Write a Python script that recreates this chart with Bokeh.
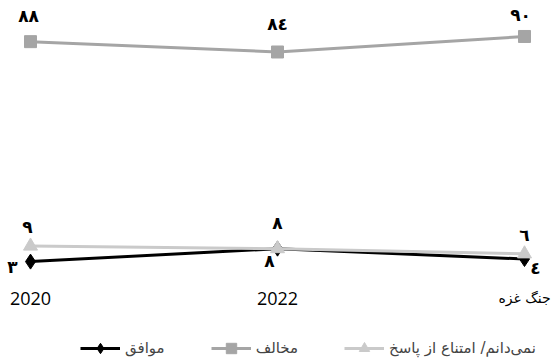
from bokeh.plotting import figure
from bokeh.models import Range1d, ColumnDataSource, Legend, LegendItem
from bokeh.core.properties import value
from bokeh.embed import file_html
from bokeh.resources import INLINE

# ---- data ----
categories = ["2020", "2022", "جنگ غزه"]
agree = [3, 8, 4]
oppose = [88, 84, 90]
dont_know = [9, 8, 6]
series_names = ["موافق", "مخالف", "نمی\u200cدانم/ امتناع از پاسخ"]


def fa(n):
    return str(n).translate(str.maketrans("0123456789", "٠١٢٣٤٥٦٧٨٩"))


x = list(range(len(categories)))

p = figure(width=551, height=361, output_backend="svg", toolbar_location=None,
           x_range=Range1d(-0.1215, 2.1093), y_range=Range1d(-35.6, 103.9),
           x_axis_location=None, y_axis_location=None, min_border=0)
p.grid.visible = False
p.outline_line_color = None
p.background_fill_color = "white"

BLACK = "#000000"
DARK = "#A5A5A5"
LIGHT = "#CACACA"

l1 = p.line(x, agree, line_color=BLACK, line_width=3)
m1 = p.scatter(x, agree, marker="diamond", size=15, fill_color=BLACK, line_color=BLACK)
l2 = p.line(x, oppose, line_color=DARK, line_width=3)
m2 = p.scatter(x, oppose, marker="square", size=12, fill_color=DARK, line_color=DARK)
l3 = p.line(x, dont_know, line_color=LIGHT, line_width=3)
m3 = p.scatter(x, dont_know, marker="triangle", size=14, fill_color=LIGHT, line_color=LIGHT)

# data labels
lab_x = x * 3
lab_y = oppose + dont_know + agree
lab_t = [fa(v) for v in lab_y]
dx = [-2, 0, -4, -3, 0, 0, -18, -8, 11]
dy = [-26, -28, -21, -19, -26, -19, 5, 12, 9]
lab_src = ColumnDataSource(dict(x=lab_x, y=lab_y, t=lab_t, dx=dx, dy=dy))
p.text(x="x", y="y", text="t", x_offset="dx", y_offset="dy", source=lab_src,
       text_align="center", text_baseline="middle",
       text_font=value("DejaVu Sans"), text_font_style="bold",
       text_font_size="17px", text_color="black")

# category labels
cat_src = ColumnDataSource(dict(
    x=x, y=[0] * len(x), t=categories,
    f=["Open Sans", "Open Sans", "DejaVu Sans"],
    s=["18px", "18px", "14px"]))
p.text(x="x", y="y", text="t", source=cat_src, y_offset=29,
       text_align="center", text_baseline="middle",
       text_font="f", text_font_size="s", text_color="black")

legend = Legend(items=[
    LegendItem(label=value(series_names[0]), renderers=[l1, m1]),
    LegendItem(label=value(series_names[1]), renderers=[l2, m2]),
    LegendItem(label=value(series_names[2]), renderers=[l3, m3]),
], orientation="horizontal", location=(80, 0), glyph_width=40, glyph_height=26,
    label_height=26, label_standoff=5, spacing=46, padding=0, margin=0,
    border_line_color=None, background_fill_alpha=0,
    label_text_font="DejaVu Sans", label_text_font_size="15px",
    label_text_baseline="middle")
p.add_layout(legend)

open("out.html", "w").write(file_html(p, INLINE))
